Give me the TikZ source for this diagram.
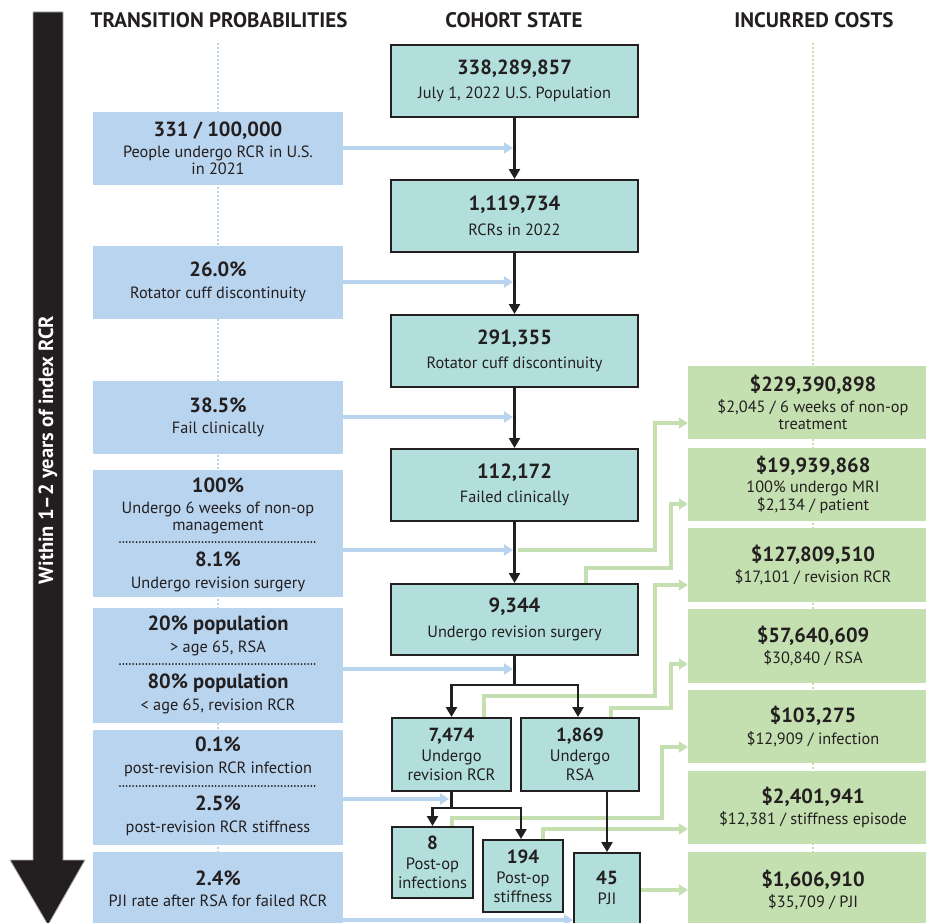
\documentclass[tikz,border=0pt]{standalone}
\usepackage{fontspec}
\setmainfont{PT Sans}
\usetikzlibrary{arrows.meta,calc}
\definecolor{ink}{HTML}{231F20}
\definecolor{tealfill}{HTML}{B2DFDB}
\definecolor{bluefill}{HTML}{B9D4EE}
\definecolor{greenfill}{HTML}{C5E0B0}
\definecolor{blueline}{HTML}{B9D4EE}
\definecolor{greenline}{HTML}{C5E0B0}
\newcommand{\bighead}[1]{{\bfseries\fontsize{20.5}{24}\selectfont #1}}
\newcommand{\smallhead}[1]{{\bfseries\fontsize{19}{22}\selectfont #1}}
\tikzset{
  basetext/.style={text=ink, align=center, inner sep=0pt, font=\fontsize{16.3}{17.5}\selectfont},
  probbox/.style={basetext, fill=bluefill, minimum width=250pt},
  costbox/.style={basetext, fill=greenfill, minimum width=250pt},
  statebox/.style={basetext, fill=tealfill, draw=ink, line width=2pt},
  smallstate/.style={statebox, font=\fontsize{16.5}{19}\selectfont},
  header/.style={text=ink, inner sep=0pt, font=\bfseries\fontsize{21}{24}\selectfont},
  flow/.style={draw=ink, line width=2.8pt, -{Triangle[width=11pt,length=10pt]}},
  flowline/.style={draw=ink, line width=2.8pt},
  feed/.style={draw=blueline, line width=3.2pt, -{Triangle[width=11pt,length=9pt]}},
  costlink/.style={draw=greenline, line width=3.2pt, -{Triangle[width=11pt,length=9pt]}},
  sepline/.style={draw=ink, line width=2pt, line cap=round, dash pattern=on 0pt off 3.3pt},
  guide/.style={line width=1.6pt, dash pattern=on 1.6pt off 2.4pt},
}
\begin{document}
\begin{tikzpicture}[x=1pt,y=-1pt]
\useasboundingbox (0,0) rectangle (926,923);

% time arrow
\fill[ink, draw=gray!60, line width=0.8pt] (33,12) -- (63,12) -- (63,860) -- (85,860) -- (48,925) -- (10,860) -- (33,860) -- cycle;
\node[rotate=90, text=white, font=\bfseries\fontsize{20.5}{24}\selectfont] (span) at (48,450) {Within 1–2 years of index RCR};

% headers
\node[header] (h1) at (219,20) {TRANSITION PROBABILITIES};
\node[header] (h2) at (514,20) {COHORT STATE};
\node[header] (h3) at (814,20) {INCURRED COSTS};

% guides
\coordinate (gb1) at (218,43); \coordinate (gb2) at (218,860);
\coordinate (gg1) at (813,43); \coordinate (gg2) at (813,860);
\draw[guide, draw=blueline] (gb1) -- (gb2);
\draw[guide, draw=greenline] (gg1) -- (gg2);

% probability boxes
\node[probbox, minimum height=73pt] (b1) at (218,148.5) {\bighead{331 / 100,000}\\[3pt] People undergo RCR in U.S.\\ in 2021};
\node[probbox, minimum height=73pt] (b2) at (218,282) {\bighead{26.0\%}\\[4pt] Rotator cuff discontinuity};
\node[probbox, minimum height=73pt] (b3) at (218,417.5) {\bighead{38.5\%}\\[4pt] Fail clinically};
\node[probbox, minimum height=127pt] (b4) at (218,533.5) {};
\node[basetext] (b4a) at (218,506) {\bighead{100\%}\\[3pt] Undergo 6 weeks of non-op\\ management};
\node[basetext] (b4b) at (218,572) {\bighead{8.1\%}\\[4pt] Undergo revision surgery};
\node[probbox, minimum height=115pt] (b5) at (218,665.5) {};
\node[basetext] (b5a) at (218,636) {\bighead{20\% population}\\[4pt] > age 65, RSA};
\node[basetext] (b5b) at (218,694) {\bighead{80\% population}\\[4pt] < age 65, revision RCR};
\node[probbox, minimum height=115pt] (b6) at (218,787.5) {};
\node[basetext] (b6a) at (218,757) {\bighead{0.1\%}\\[4pt] post-revision RCR infection};
\node[basetext] (b6b) at (218,816) {\bighead{2.5\%}\\[4pt] post-revision RCR stiffness};
\node[probbox, minimum height=80pt] (b7) at (218,892) {};
\node[basetext] (b7a) at (218,889) {\bighead{2.4\%}\\[4pt] PJI rate after RSA for failed RCR};
\draw[sepline] (120,542) -- (317,542);
\draw[sepline] (120,664) -- (317,664);
\draw[sepline] (120,786) -- (317,786);

% cost boxes
\node[costbox, minimum height=73pt] (g1) at (813,402.5) {\bighead{\$229,390,898}\\[3pt] \$2,045 / 6 weeks of non-op\\ treatment};
\node[costbox, minimum height=73pt] (g2) at (813,484.5) {\bighead{\$19,939,868}\\[3pt] 100\% undergo MRI\\ \$2,134 / patient};
\node[costbox, minimum height=74pt] (g3) at (813,565) {\bighead{\$127,809,510}\\[4pt] \$17,101 / revision RCR};
\node[costbox, minimum height=74pt] (g4) at (813,646) {\bighead{\$57,640,609}\\[4pt] \$30,840 / RSA};
\node[costbox, minimum height=73pt] (g5) at (813,726.5) {\bighead{\$103,275}\\[4pt] \$12,909 / infection};
\node[costbox, minimum height=73pt] (g6) at (813,807.5) {\bighead{\$2,401,941}\\[4pt] \$12,381 / stiffness episode};
\node[costbox, minimum height=76pt] (g7) at (813,890) {\bighead{\$1,606,910}\\[4pt] \$35,709 / PJI};

% cohort state boxes
\node[statebox, minimum width=247pt, minimum height=72pt] (A) at (514.5,81) {\bighead{338,289,857}\\[7pt] July 1, 2022 U.S. Population};
\node[statebox, minimum width=247pt, minimum height=72pt] (B) at (514.5,216) {\bighead{1,119,734}\\[7pt] RCRs in 2022};
\node[statebox, minimum width=247pt, minimum height=72pt] (C) at (514.5,351) {\bighead{291,355}\\[7pt] Rotator cuff discontinuity};
\node[statebox, minimum width=247pt, minimum height=72pt] (D) at (514.5,485) {\bighead{112,172}\\[7pt] Failed clinically};
\node[statebox, minimum width=247pt, minimum height=71pt] (E) at (514.5,619.5) {\bighead{9,344}\\[7pt] Undergo revision surgery};
\node[smallstate, minimum width=119pt, minimum height=73pt] (F) at (451.5,754.5) {\smallhead{7,474}\\[1pt] Undergo\\ revision RCR};
\node[smallstate, minimum width=118pt, minimum height=73pt] (G) at (580,754.5) {\smallhead{1,869}\\[1pt] Undergo\\ RSA};
\node[smallstate, minimum width=81pt, minimum height=71pt] (H) at (432.5,862.5) {\smallhead{8}\\[1pt] Post-op\\ infections};
\node[smallstate, minimum width=80pt, minimum height=72pt] (I) at (523,876) {\smallhead{194}\\[1pt] Post-op\\ stiffness};
\node[smallstate, minimum width=66pt, minimum height=90pt] (J) at (607,898) {};
\node[basetext, font=\fontsize{16.5}{19}\selectfont] (Jt) at (607,888) {\smallhead{45}\\[1pt] PJI};

% cost connectors (green)
\coordinate (c1) at (518,550); \coordinate (k1) at (655,423);
\draw[costlink] (c1) -| (k1) -- (k1 -| g1.west);
\coordinate (k2a) at (586,568); \coordinate (k2b) at (671,504);
\draw[costlink] (k2a |- E.north) -- (k2a) -| (k2b) -- (k2b -| g2.west);
\coordinate (k3a) at (484,696); \coordinate (k3b) at (655,585);
\draw[costlink] (k3a |- F.north) -- (k3a) -| (k3b) -- (k3b -| g3.west);
\coordinate (k4a) at (611,708); \coordinate (k4b) at (671,664);
\draw[costlink] (k4a |- G.north) -- (k4a) -| (k4b) -- (k4b -| g4.west);
\coordinate (k5a) at (452,818); \coordinate (k5b) at (662,747);
\draw[costlink] (k5a |- H.north) -- (k5a) -| (k5b) -- (k5b -| g5.west);
\coordinate (k6) at (543,829);
\draw[costlink] (k6 |- I.north) -- (k6) -- (k6 -| g6.west);
\coordinate (k7) at (640,890);
\draw[costlink] (J.east |- k7) -- (k7 -| g7.west);

% probability feeds (blue)
\coordinate (f1) at (513,148); \draw[feed] (b1.east |- f1) -- (f1);
\coordinate (f2) at (513,282); \draw[feed] (b2.east |- f2) -- (f2);
\coordinate (f3) at (513,417); \draw[feed] (b3.east |- f3) -- (f3);
\coordinate (f4) at (513,550); \draw[feed] (b4.east |- f4) -- (f4);
\coordinate (f5) at (513,669); \draw[feed] (b5.east |- f5) -- (f5);
\coordinate (f6) at (449,799); \draw[feed] (b6.east |- f6) -- (f6);
\coordinate (f7) at (573,920); \draw[feed] (b7.east |- f7) -- (f7);

% flow arrows (black)
\draw[flow] (A.south) -- (B.north);
\draw[flow] (B.south) -- (C.north);
\draw[flow] (C.south) -- (D.north);
\draw[flow] (D.south) -- (E.north);
\coordinate (ef) at (514.5,685);
\draw[flowline] (E.south) -- (ef);
\draw[flow] (ef) -| (F.north);
\draw[flow] (ef) -| ([xshift=-2pt]G.north);
\coordinate (fh) at (451.5,808);
\draw[flowline] (F.south) -- (fh);
\draw[flow] (fh) -| (H.north);
\draw[flow] (fh) -| ([xshift=-2pt]I.north);
\draw[flow] (G.south -| J.north) -- (J.north);
\end{tikzpicture}
\end{document}
